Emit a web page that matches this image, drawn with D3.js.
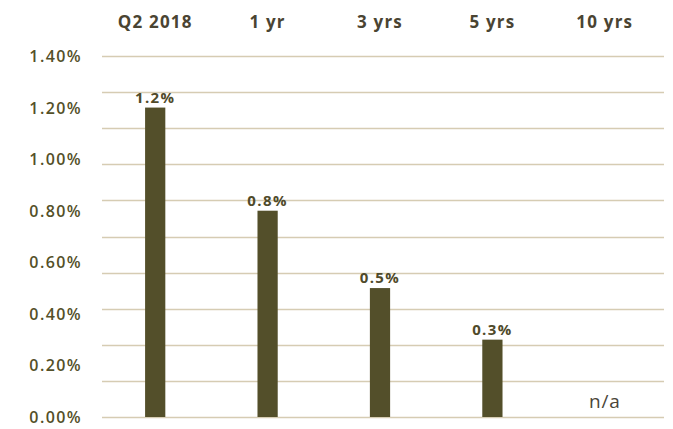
<!DOCTYPE html>
<html>
<head>
<meta charset="utf-8">
<script src="https://cdn.jsdelivr.net/npm/d3@7.9.0/dist/d3.min.js"></script>
<style>
  body { margin: 0; background: #fff; }
  svg { display: block; font-family: "Open Sans", Lato, sans-serif; }
</style>
</head>
<body>
<div id="chart"></div>
<script>
// periods and returns (%)
const periods = ['Q2 2018', '1 yr', '3 yrs', '5 yrs', '10 yrs'];
const returns = [1.2, 0.8, 0.5, 0.3, null];
const valueLabels = ['1.2%', '0.8%', '0.5%', '0.3%', 'n/a'];
const yTicks = [0, 0.2, 0.4, 0.6, 0.8, 1.0, 1.2, 1.4];
const gridSteps = 10;

const W = 673, H = 429;
const svg = d3.select('#chart').append('svg')
  .attr('width', W).attr('height', H);

const x = d3.scaleBand()
  .domain(periods)
  .range([99, 661])
  .paddingInner(0.82)
  .paddingOuter(0.41);

const y = d3.scaleLinear()
  .domain([0, 1.4])
  .range([417, 56]);

// gridlines (10 evenly spaced lines over the axis range)
const gridVals = d3.range(gridSteps + 1).map(i => 1.4 * i / gridSteps);
svg.append('g')
  .selectAll('line')
  .data(gridVals)
  .join('line')
    .attr('x1', 102).attr('x2', 664)
    .attr('y1', d => Math.round(y(d)) + 0.5)
    .attr('y2', d => Math.round(y(d)) + 0.5)
    .attr('stroke', '#d6ccb3')
    .attr('stroke-width', 1.3);

// y axis labels
svg.append('g')
  .selectAll('text')
  .data(yTicks)
  .join('text')
    .attr('x', 82)
    .attr('y', d => y(d) + 6)
    .attr('text-anchor', 'end')
    .attr('fill', '#545028')
    .attr('font-size', 16)
    .attr('font-weight', 600)
    .attr('letter-spacing', 1.4)
    .text(d => d3.format('.2f')(d) + '%');

// column headers
svg.append('g')
  .selectAll('text')
  .data(periods)
  .join('text')
    .attr('x', d => x(d) + x.bandwidth() / 2)
    .attr('y', 28)
    .attr('text-anchor', 'middle')
    .attr('fill', '#4a4432')
    .attr('font-size', 17)
    .attr('font-weight', 'bold')
    .attr('letter-spacing', 1.2)
    .text(d => d);

// bars
const bars = periods.map((p, i) => ({ p, v: returns[i], label: valueLabels[i] }));
svg.append('g')
  .selectAll('rect')
  .data(bars.filter(d => d.v != null))
  .join('rect')
    .attr('x', d => x(d.p))
    .attr('width', x.bandwidth())
    .attr('y', d => y(d.v))
    .attr('height', d => y(0) - y(d.v))
    .attr('fill', '#534f2a');

// value labels
svg.append('g')
  .selectAll('text')
  .data(bars)
  .join('text')
    .attr('x', d => x(d.p) + x.bandwidth() / 2)
    .attr('y', d => d.v != null ? y(d.v) - 5 : 408)
    .attr('text-anchor', 'middle')
    .attr('fill', d => d.v != null ? '#4f4a2a' : '#4b4538')
    .attr('font-size', d => d.v != null ? 15 : 19)
    .attr('font-weight', d => d.v != null ? 'bold' : 'normal')
    .attr('letter-spacing', d => d.v != null ? 1.4 : 0.8)
    .text(d => d.label);
</script>
</body>
</html>
